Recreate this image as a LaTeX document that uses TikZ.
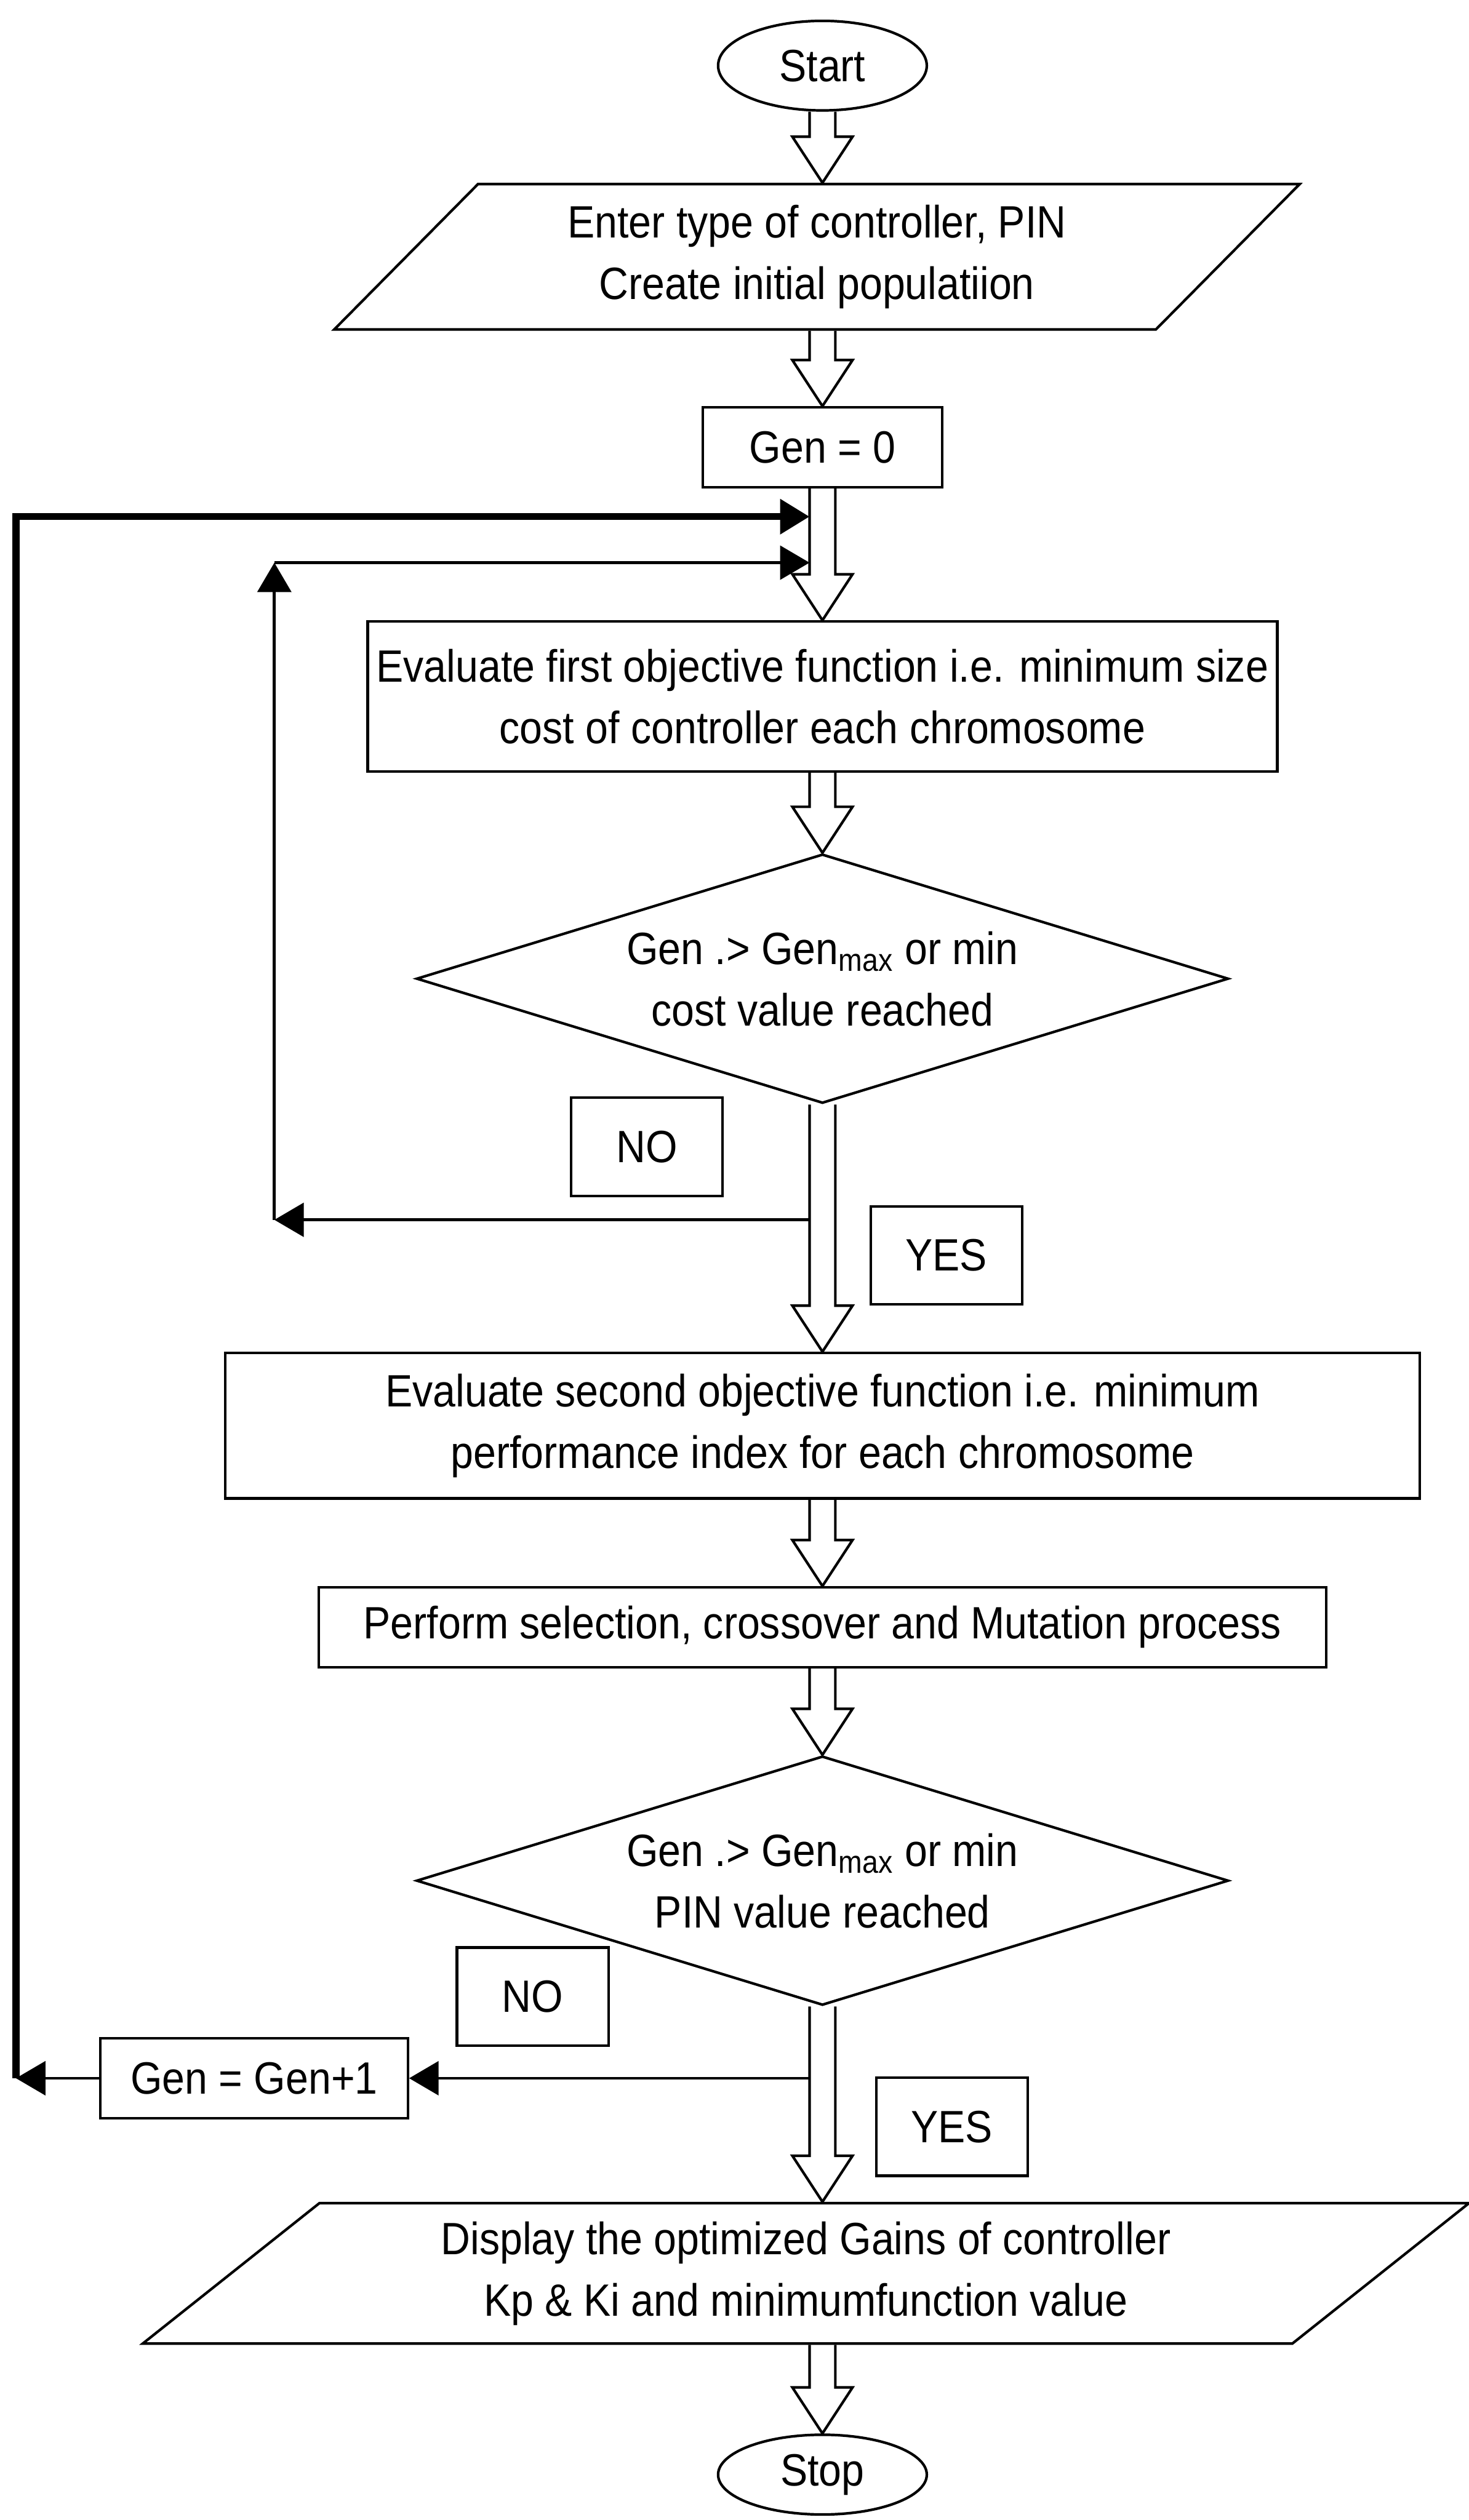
\documentclass[tikz,border=0pt]{standalone}
\usepackage{fontspec}
\setmainfont{Liberation Sans}[FakeStretch=0.9]
\usetikzlibrary{arrows.meta,calc,shapes.geometric}

\tikzset{
  startstop/.style={ellipse,draw,line width=1.2pt,minimum width=3.4cm,inner sep=0pt},
  process/.style={rectangle,draw,line width=1.2pt,align=center,inner sep=0pt},
  io/.style={trapezium,trapezium stretches body,draw,line width=1.2pt,align=center,inner sep=0pt},
  decision/.style={diamond,draw,line width=1.2pt,align=center,inner sep=0pt,aspect=3.26,
    minimum width=13.23cm,minimum height=4.06cm},
  tag/.style={rectangle,draw,line width=1.2pt,minimum width=2.47cm,minimum height=1.6cm,inner sep=0pt},
  arr/.style={line width=1.4pt,-{Triangle[length=0.48cm,width=0.55cm]}},
  thickarr/.style={line width=3.2pt,-{Triangle[length=0.48cm,width=0.55cm]}}
}
% hollow arrow between two nodes (vertical)
\newcommand\fatarrow[2]{%
  \draw[line width=1.2pt] let \p1=(#1),\p2=(#2) in
    (\x1-0.21cm,\y1) -- (\x1-0.21cm,\y2+0.75cm) -- (\x1-0.49cm,\y2+0.75cm)
    -- (\x1,\y2) -- (\x1+0.49cm,\y2+0.75cm) -- (\x1+0.21cm,\y2+0.75cm) -- (\x1+0.21cm,\y1);}

\begin{document}
\begin{tikzpicture}[every node/.style={font=\fontsize{21}{28.5}\selectfont}]
    \useasboundingbox (0,0) rectangle (23.93,-41.07);

    \node[startstop,minimum height=1.46cm] (start) at (13.4,-1.07) {Start};
    \node[io,minimum width=15.73cm,minimum height=2.37cm,
          trapezium left angle=35.8,trapezium right angle=144.2] (input) at (13.31,-4.185)
          {Enter type of controller, PIN\\Create initial populatiion};
    \node[process,minimum width=3.9cm,minimum height=1.3cm] (gen0) at (13.4,-7.29) {Gen = 0};
    \node[process,minimum width=14.82cm,minimum height=2.44cm] (eval1) at (13.4,-11.35)
          {Evaluate first objective function i.e. minimum size\\cost of controller each chromosome};
    \node[decision] (dec1) at (13.4,-15.95)
          {Gen .> Gen\textsubscript{max} or min\\cost value reached};
    \node[tag] (no1) at (10.54,-18.69) {NO};
    \node[tag] (yes1) at (15.42,-20.46) {YES};
    \node[process,minimum width=19.46cm,minimum height=2.37cm] (eval2) at (13.4,-23.235)
          {Evaluate second objective function i.e. minimum\\performance index for each chromosome};
    \node[process,minimum width=16.41cm,minimum height=1.3cm] (perform) at (13.4,-26.52)
          {Perform selection, crossover and Mutation process};
    \node[decision] (dec2) at (13.4,-30.65)
          {Gen .> Gen\textsubscript{max} or min\\PIN value reached};
    \node[tag] (no2) at (8.68,-32.54) {NO};
    \node[process,minimum width=5.01cm,minimum height=1.3cm] (gen1) at (4.14,-33.87) {Gen = Gen+1};
    \node[tag] (yes2) at (15.51,-34.66) {YES};
    \node[io,minimum width=21.61cm,minimum height=2.29cm,
          trapezium left angle=30.4,trapezium right angle=149.6] (output) at (13.13,-37.05)
          {Display the optimized Gains of controller\\Kp \& Ki and minimumfunction value};
    \node[startstop,minimum height=1.3cm] (stop) at (13.4,-40.33) {Stop};

    % main flow
    \fatarrow{start.south}{input.north -| start.south}
    \fatarrow{gen0.north |- input.south}{gen0.north}
    \fatarrow{gen0.south}{eval1.north}
    \fatarrow{eval1.south}{dec1.north}
    \fatarrow{dec1.south}{eval2.north}
    \fatarrow{eval2.south}{perform.north}
    \fatarrow{perform.south}{dec2.north}
    \fatarrow{dec2.south}{output.north -| dec2.south}
    \fatarrow{stop.north |- output.south}{stop.north}

    % loops
    \coordinate (jA) at (13.19,-8.42);
    \coordinate (jB) at (13.19,-9.17);
    \coordinate (n1) at (13.19,-19.88);
    \coordinate (c1) at (4.47,-19.88);
    \coordinate (c2) at (4.47,-9.17);
    \draw[arr] (n1) -- (c1);
    \draw[arr] (c1) -- (c2);
    \draw[arr] (c2) -- (jB);

    \coordinate (n2) at (13.19,-33.87);
    \coordinate (c3) at (0.26,-33.87);
    \coordinate (c4) at (0.26,-8.42);
    \draw[arr] (n2) -- (gen1.east);
    \draw[arr] (gen1.west) -- (c3);
    \draw[thickarr] (c3) -- (c4) -- (jA);
\end{tikzpicture}
\end{document}
